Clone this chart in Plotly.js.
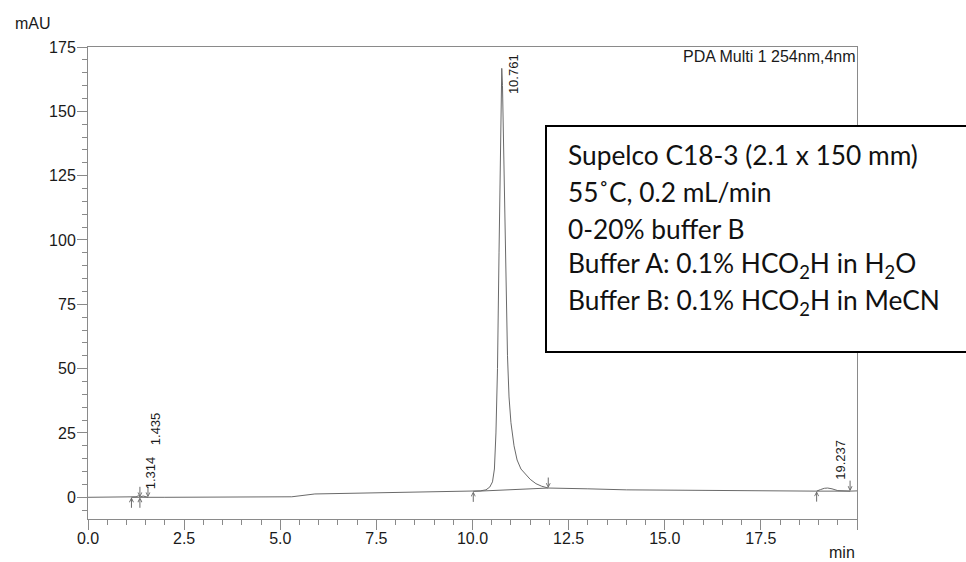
<!DOCTYPE html>
<html>
<head>
<meta charset="utf-8">
<script src="https://cdn.plot.ly/plotly-3.0.1.min.js"></script>
<style>
  html, body { margin: 0; padding: 0; background: #fff; }
  #chart { width: 966px; height: 562px; }
</style>
</head>
<body>
<div id="chart"></div>
<script>
// Chromatogram, PDA channel 254 nm
const timeMin = [0, 0.6, 1.0, 1.13, 1.25, 1.314, 1.36, 1.435, 1.5, 1.56, 2.0, 3.0, 4.0, 5.0, 5.3, 5.9,
  7.0, 8.0, 9.0, 10.0, 10.2, 10.35, 10.45, 10.52, 10.57, 10.61, 10.65, 10.69, 10.72, 10.745, 10.761,
  10.78, 10.81, 10.84, 10.87, 10.91, 10.95, 11.0, 11.08, 11.16, 11.26, 11.38, 11.5, 11.65, 11.8, 11.97,
  12.5, 13.0, 14.0, 15.0, 16.0, 17.0, 18.0, 18.95, 19.05, 19.15, 19.237, 19.35, 19.5, 19.65, 19.82, 20.0];
const absorbance = [0, 0, 0, 0, 0.2, 0.6, 0.2, 0.5, 0.2, 0, 0, 0, 0, 0, 0.2, 1.3,
  1.6, 1.9, 2.1, 2.3, 2.5, 2.9, 4.0, 6.0, 11, 25, 50, 95, 135, 160, 166.7,
  160, 137, 108, 80, 55, 39, 29, 20, 14.5, 11, 9.0, 7.0, 5.3, 4.3, 3.6,
  3.5, 3.3, 2.9, 2.8, 2.7, 2.6, 2.5, 2.4, 3.0, 3.5, 3.6, 3.3, 2.6, 2.4, 2.4, 2.5];

// Integration markers (peak start / peak end) and baselines
const peakStart = [1.13, 1.35, 10.02, 18.95];
const peakStartLevel = [0, 0, 2.3, 2.4];
const peakEnd = [1.35, 1.56, 11.97, 19.82];
const peakEndLevel = [0, 0, 3.6, 2.4];

// Retention-time labels
const rtLabels = ['1.314', '1.435', '10.761', '19.237'];
const rtTimes = [1.314, 1.435, 10.761, 19.237];
const rtHeights = [0.6, 0.5, 166.7, 3.6];
const rtLabelLift = [23, 67, -6, 28];

// Axis ticks
const xTickVals = [0, 2.5, 5, 7.5, 10, 12.5, 15, 17.5, 20];
const xTickText = ['0.0', '2.5', '5.0', '7.5', '10.0', '12.5', '15.0', '17.5', ''];

const infoLines = [
  'Supelco C18-3 (2.1 x 150 mm)',
  '55˚C, 0.2 mL/min',
  '0-20% buffer B',
  'Buffer A: 0.1% HCO<sub>2</sub>H in H<sub>2</sub>O',
  'Buffer B: 0.1% HCO<sub>2</sub>H in MeCN'
];

const axisGrey = '#8a8a8a';
const traceGrey = '#6a6a6a';
const font = 'Liberation Sans, Arial, sans-serif';
const textCol = '#1a1a1a';

const traces = [{
  x: timeMin, y: absorbance, type: 'scatter', mode: 'lines',
  line: { color: traceGrey, width: 1 }, hoverinfo: 'x+y'
}];

// straight integration baselines under each peak
for (let i = 0; i < peakStart.length; i++) {
  traces.push({
    x: [peakStart[i], peakEnd[i]], y: [peakStartLevel[i], peakEndLevel[i]],
    type: 'scatter', mode: 'lines', line: { color: traceGrey, width: 1 }, hoverinfo: 'skip'
  });
}

const annotations = [];
peakStart.forEach((t, i) => annotations.push({
  x: t, y: peakStartLevel[i], xref: 'x', yref: 'y', text: '',
  showarrow: true, ax: 0, ay: 12, arrowhead: 5, arrowsize: 0.8, arrowwidth: 1,
  arrowcolor: traceGrey, standoff: 0
}));
peakEnd.forEach((t, i) => annotations.push({
  x: t, y: peakEndLevel[i], xref: 'x', yref: 'y', text: '',
  showarrow: true, ax: 0, ay: -12, arrowhead: 5, arrowsize: 0.8, arrowwidth: 1,
  arrowcolor: traceGrey, standoff: 0
}));
rtLabels.forEach((lab, i) => annotations.push({
  x: rtTimes[i], y: rtHeights[i], xref: 'x', yref: 'y', text: lab,
  showarrow: false, textangle: -90, xanchor: 'center', yanchor: 'middle',
  xshift: 12, yshift: rtLabelLift[i],
  font: { family: font, size: 13, color: textCol }
}));

annotations.push({
  x: 1, y: 1, xref: 'paper', yref: 'paper', text: 'PDA Multi 1 254nm,4nm',
  showarrow: false, xanchor: 'right', yanchor: 'top', borderpad: 0,
  font: { family: font, size: 16, color: textCol }
});
annotations.push({
  x: -0.1, y: 1, xref: 'paper', yref: 'paper', text: 'mAU', showarrow: false,
  xanchor: 'left', yanchor: 'middle', xshift: 2, yshift: 24,
  font: { family: font, size: 16, color: textCol }
});
annotations.push({
  x: 1, y: 0, xref: 'paper', yref: 'paper', text: 'min', showarrow: false,
  xanchor: 'right', yanchor: 'middle', yshift: -33,
  font: { family: font, size: 16, color: textCol }
});

// method description box
const boxLeftPx = 546, plotLeft = 88, plotW = 769, plotTop = 47, plotH = 472;
infoLines.forEach((line, i) => annotations.push({
  x: (566 - plotLeft) / plotW, y: (plotH - (155 + i * 36.8 - plotTop)) / plotH,
  xref: 'paper', yref: 'paper', text: line, showarrow: false,
  xanchor: 'left', yanchor: 'middle',
  font: { family: 'Lato, Carlito, Calibri, sans-serif', size: 26.3, color: '#111' }
}));

const layout = {
  width: 966, height: 562,
  margin: { l: plotLeft, r: 966 - plotLeft - plotW, t: plotTop, b: 562 - plotTop - plotH },
  paper_bgcolor: '#fff', plot_bgcolor: '#fff',
  showlegend: false,
  font: { family: font, size: 16, color: textCol },
  xaxis: {
    range: [0, 20], tickmode: 'array', tickvals: xTickVals, ticktext: xTickText,
    ticks: 'outside', ticklen: 10, tickwidth: 1, tickcolor: axisGrey,
    showline: true, linecolor: axisGrey, linewidth: 1, mirror: true,
    showgrid: false, zeroline: false, ticklabelstandoff: -5,
    minor: { dtick: 0.5, tick0: 0, ticks: 'outside', ticklen: 5, tickcolor: axisGrey, showgrid: false },
    tickfont: { family: font, size: 16, color: textCol }
  },
  yaxis: {
    range: [-8.43, 175], tick0: 0, dtick: 25,
    ticks: 'outside', ticklen: 10, tickwidth: 1, tickcolor: axisGrey,
    showline: true, linecolor: axisGrey, linewidth: 1, mirror: true,
    showgrid: false, zeroline: false, ticklabelstandoff: -2,
    minor: { dtick: 5, tick0: 0, ticks: 'outside', ticklen: 5, tickcolor: axisGrey, showgrid: false },
    tickfont: { family: font, size: 16, color: textCol }
  },
  shapes: [{
    type: 'rect', xref: 'paper', yref: 'paper', layer: 'above',
    x0: (boxLeftPx - plotLeft) / plotW, x1: (975 - plotLeft) / plotW,
    y0: (plotTop + plotH - 352) / plotH, y1: (plotTop + plotH - 126) / plotH,
    line: { color: '#000', width: 2 }, fillcolor: '#fff'
  }],
  annotations: annotations
};

Plotly.newPlot('chart', traces, layout, { displayModeBar: false, staticPlot: true });
</script>
</body>
</html>
